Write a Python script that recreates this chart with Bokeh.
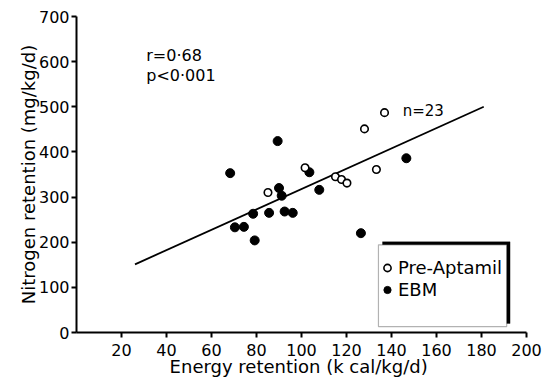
from bokeh.plotting import figure
from bokeh.models import Range1d, FixedTicker, Label, BoxAnnotation, Legend, LegendItem
from bokeh.embed import file_html
from bokeh.resources import INLINE

# ---- data ----
ebm_x = [68.3, 89.4, 103.5, 90.0, 91.2, 107.9, 78.5, 85.6, 92.5, 96.1, 70.4, 74.4, 79.2, 126.4, 146.6]
ebm_y = [353, 424, 355, 320, 303, 316, 263, 265, 268, 265, 233, 234, 204, 220, 386]
pre_x = [85.1, 101.6, 115.1, 117.8, 120.2, 133.3, 128.0, 136.9]
pre_y = [310, 365, 345, 339, 331, 361, 451, 487]
reg_x = [26, 181]
reg_y = [151, 500]
x_ticks = [20, 40, 60, 80, 100, 120, 140, 160, 180, 200]
y_ticks = [0, 100, 200, 300, 400, 500, 600, 700]

FONT = "DejaVu Sans"

p = figure(width=550, height=379, output_backend="svg", toolbar_location=None,
           x_range=Range1d(0, 200), y_range=Range1d(0, 700),
           min_border_left=76, min_border_right=24, min_border_top=16, min_border_bottom=46)
p.outline_line_color = None
p.xgrid.visible = False
p.ygrid.visible = False
p.background_fill_color = "white"

for ax in (p.xaxis[0], p.yaxis[0]):
    ax.axis_line_width = 2
    ax.axis_line_color = "black"
    ax.major_tick_line_width = 2
    ax.major_tick_line_color = "black"
    ax.major_tick_out = 5
    ax.major_tick_in = 0
    ax.minor_tick_line_color = None
    ax.major_label_text_font = FONT
    ax.major_label_text_font_size = "16px"
    ax.major_label_text_color = "black"
    ax.axis_label_text_font = FONT
    ax.axis_label_text_font_size = "18px"
    ax.axis_label_text_font_style = "normal"
    ax.axis_label_text_color = "black"

p.xaxis.ticker = FixedTicker(ticks=x_ticks)
p.yaxis.ticker = FixedTicker(ticks=y_ticks)
p.xaxis.axis_label = "Energy retention  (k cal/kg/d)"
p.yaxis.axis_label = "Nitrogen retention (mg/kg/d)"
p.xaxis.major_label_standoff = 6
p.xaxis.axis_label_standoff = -3
p.yaxis.major_label_standoff = 2
p.yaxis.axis_label_standoff = -3

# regression line
p.line(reg_x, reg_y, line_color="black", line_width=1.8)

r_ebm = p.scatter(ebm_x, ebm_y, marker="circle", size=9, fill_color="black", line_color="black")
r_pre = p.scatter(pre_x, pre_y, marker="circle", size=7.5, fill_color="white",
                  line_color="black", line_width=1.6)

# annotations
p.add_layout(Label(x=31, y=614, text="r=0·68", text_font=FONT, text_font_size="16px",
                   text_baseline="alphabetic", text_color="black"))
p.add_layout(Label(x=31, y=570, text="p<0·001", text_font=FONT, text_font_size="16px",
                   text_baseline="alphabetic", text_color="black"))
p.add_layout(Label(x=145, y=490, text="n=23", text_font=FONT, text_font_size="15px",
                   text_baseline="alphabetic", text_color="black"))

# legend frame with shadow
p.add_layout(BoxAnnotation(left=136, right=192.7, bottom=20, top=201,
                           fill_color="black", fill_alpha=1, line_color="black"))
p.add_layout(BoxAnnotation(left=134.2, right=191.2, bottom=13.2, top=194.3,
                           fill_color="white", fill_alpha=1, line_color="black", line_width=1.2))

legend = Legend(items=[LegendItem(label="Pre-Aptamil", renderers=[r_pre]),
                       LegendItem(label="EBM", renderers=[r_ebm])],
                location=(298, 28), border_line_alpha=0, background_fill_alpha=0,
                padding=4, spacing=1, margin=0, glyph_width=18, glyph_height=21,
                label_height=21, label_standoff=2, label_text_font=FONT,
                label_text_font_size="18px", label_text_color="black")
p.add_layout(legend)

open("out.html", "w").write(file_html(p, INLINE))
